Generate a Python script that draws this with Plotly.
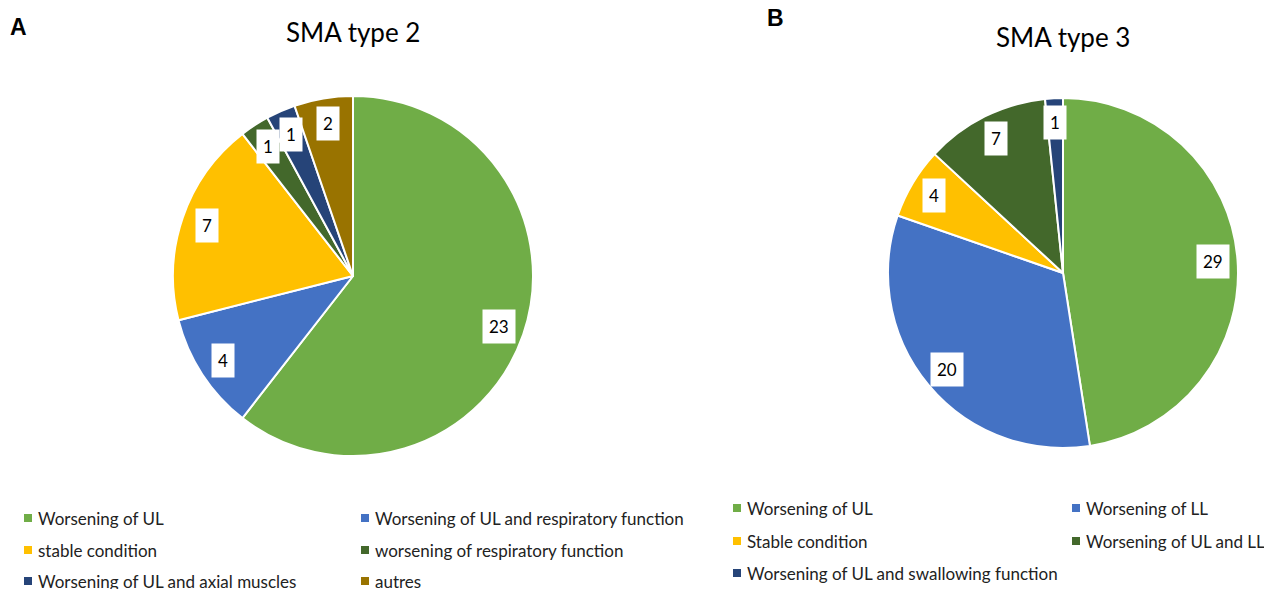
import math
import plotly.graph_objects as go

W, H = 1272, 589

# ---------------- data ----------------
labels_a = ["Worsening of UL", "Worsening of UL and respiratory function", "stable condition",
            "worsening of respiratory function", "Worsening of UL and axial muscles", "autres"]
values_a = [23, 4, 7, 1, 1, 2]
colors_a = ["#70AD47", "#4472C4", "#FFC000", "#43682B", "#264478", "#997300"]

labels_b = ["Worsening of UL", "Worsening of LL", "Stable condition",
            "Worsening of UL and LL", "Worsening of UL and swallowing function"]
values_b = [29, 20, 4, 7, 1]
colors_b = ["#70AD47", "#4472C4", "#FFC000", "#43682B", "#264478"]

FONT = "Lato, 'Open Sans', sans-serif"

# page offset (body margin of the html page)
OFF = 8

# ---------------- layout geometry (screen pixels) ----------------
pie_a = dict(cx=353, cy=276, r=180)
pie_b = dict(cx=1063, cy=273, r=175)


def px(x):
    return (x - OFF) / W


def py(y):
    return 1 - (y - OFF) / H


def domain(p):
    return dict(x=[px(p["cx"] - p["r"]), px(p["cx"] + p["r"])],
                y=[py(p["cy"] + p["r"]), py(p["cy"] - p["r"])])


fig = go.Figure()
for labels, values, colors, p in [(labels_a, values_a, colors_a, pie_a),
                                  (labels_b, values_b, colors_b, pie_b)]:
    fig.add_trace(go.Pie(labels=labels, values=values, sort=False, direction="clockwise",
                         rotation=0, textinfo="none", hoverinfo="label+value",
                         marker=dict(colors=colors, line=dict(color="white", width=2)),
                         domain=domain(p), showlegend=False))

annotations = []
shapes = []


def data_labels(values, p, frac=0.86):
    total = sum(values)
    cum = 0
    for v in values:
        mid = (cum + v / 2) / total * 2 * math.pi
        cum += v
        x = p["cx"] + frac * p["r"] * math.sin(mid)
        y = p["cy"] - frac * p["r"] * math.cos(mid)
        annotations.append(dict(x=px(x), y=py(y), xref="paper", yref="paper", text=str(v),
                                xanchor="center", yanchor="middle",
                                showarrow=False, bgcolor="white", borderpad=6,
                                font=dict(family=FONT, size=17, color="#000000")))


data_labels(values_a, pie_a)
data_labels(values_b, pie_b)

# titles and panel letters
extra = [
    dict(x=px(353), y=py(32), text="SMA type 2", font=dict(family=FONT, size=26, color="#000")),
    dict(x=px(1063), y=py(37), text="SMA type 3", font=dict(family=FONT, size=26, color="#000")),
    dict(x=px(18), y=py(27), text="<b>A</b>", font=dict(family="Liberation Sans, Arial", size=23, color="#000")),
    dict(x=px(775), y=py(18), text="<b>B</b>", font=dict(family="Liberation Sans, Arial", size=23, color="#000")),
]
for a in extra:
    a.update(xref="paper", yref="paper", showarrow=False, xanchor="center", yanchor="middle")
annotations += extra


def legend(labels, colors, cols_x, rows_y):
    for i, (lab, col) in enumerate(zip(labels, colors)):
        mx = cols_x[i % 2]
        my = rows_y[i // 2]
        shapes.append(dict(type="rect", xref="paper", yref="paper",
                           x0=px(mx - 4), x1=px(mx + 4), y0=py(my + 4), y1=py(my - 4),
                           fillcolor=col, line=dict(width=0)))
        annotations.append(dict(x=px(mx + 8), y=py(my), xref="paper", yref="paper", text=lab,
                                xanchor="left", yanchor="middle", showarrow=False,
                                font=dict(family=FONT, size=17, color="#222")))


legend(labels_a, colors_a, [28, 365], [518, 550, 581])
legend(labels_b, colors_b, [737, 1076], [508, 541, 573])

fig.update_layout(width=W, height=H, margin=dict(l=0, r=0, t=0, b=0),
                  paper_bgcolor="white", plot_bgcolor="white",
                  annotations=annotations, shapes=shapes, showlegend=False)

fig.write_html("out.html")
